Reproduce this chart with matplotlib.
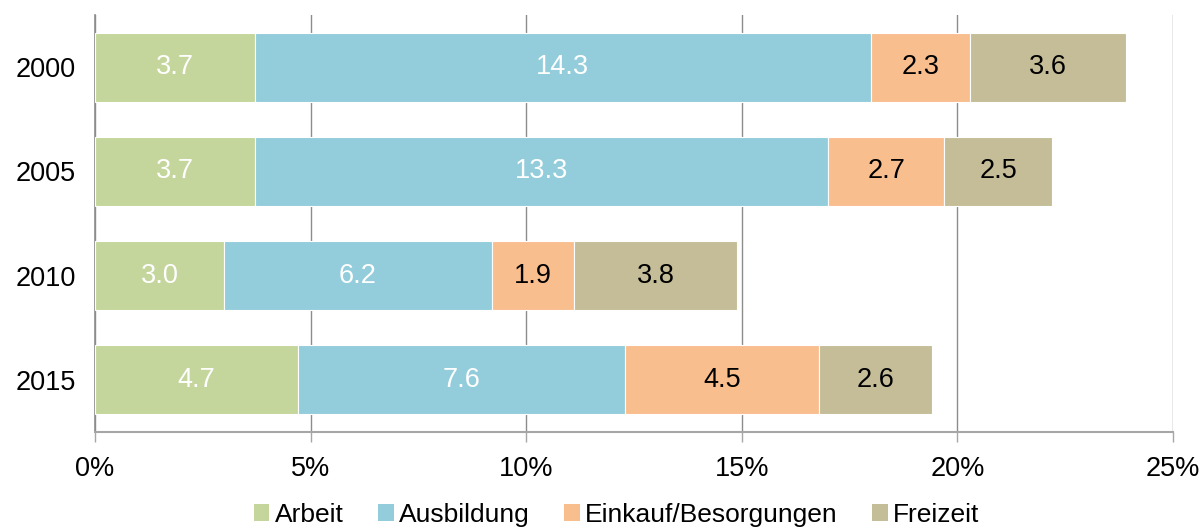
import matplotlib
matplotlib.use("Agg")
import matplotlib.pyplot as plt
from matplotlib.patches import Patch
from matplotlib.ticker import FuncFormatter

years = ["2000", "2005", "2010", "2015"]
series = ["Arbeit", "Ausbildung", "Einkauf/Besorgungen", "Freizeit"]
arbeit = [3.7, 3.7, 3.0, 4.7]
ausbildung = [14.3, 13.3, 6.2, 7.6]
einkauf = [2.3, 2.7, 1.9, 4.5]
freizeit = [3.6, 2.5, 3.8, 2.6]
colors = ["#C4D69C", "#93CDDB", "#F9BE8E", "#C4BD97"]
label_colors = ["white", "white", "black", "black"]

plt.rcParams['font.family'] = ['Liberation Sans', 'DejaVu Sans']
fig = plt.figure(figsize=(12.03, 5.30), dpi=100)
ax = fig.add_axes([95/1203, 1-432/530, (1173-95)/1203, (432-15)/530])

data = [arbeit, ausbildung, einkauf, freizeit]
ypos = list(range(len(years)))
left = [0.0]*len(years)
for vals, col, lc in zip(data, colors, label_colors):
    ax.barh(ypos, vals, left=left, height=0.66, color=col, edgecolor="white", linewidth=0.8, zorder=3)
    for i, v in enumerate(vals):
        ax.text(left[i] + v/2, ypos[i], f"{v:.1f}", ha="center", va="center", fontsize=19.5, color=lc, zorder=4)
    left = [l + v for l, v in zip(left, vals)]

ax.set_xlim(0, 25)
ax.set_ylim(3.5, -0.5)
ax.set_xticks([0, 5, 10, 15, 20, 25])
ax.xaxis.set_major_formatter(FuncFormatter(lambda x, p: f"{int(x)}%"))
ax.set_yticks(ypos)
ax.set_yticklabels(years)
ax.grid(axis="x", color="#8C8C8C", linewidth=1.0, zorder=0)
for s in ["top", "right"]:
    ax.spines[s].set_visible(False)
ax.spines["left"].set_color("#8C8C8C")
ax.spines["bottom"].set_color("#A6A6A6")
ax.spines["left"].set_linewidth(1.2)
ax.spines["bottom"].set_linewidth(1.5)
ax.tick_params(axis="x", length=7, color="#A6A6A6", width=1, labelsize=19.5, pad=10)
ax.tick_params(axis="y", length=0, labelsize=19.5, pad=14)

handles = [Patch(facecolor=c, edgecolor="none") for c in colors]
fig.legend(handles, series, loc="center", bbox_to_anchor=(0.5125, 1-515/530), ncol=4, frameon=False,
           fontsize=19, handlelength=0.6, handleheight=0.6, handletextpad=0.2, columnspacing=1.3,
           borderpad=0.1)

fig.savefig("out.png", dpi=100)
